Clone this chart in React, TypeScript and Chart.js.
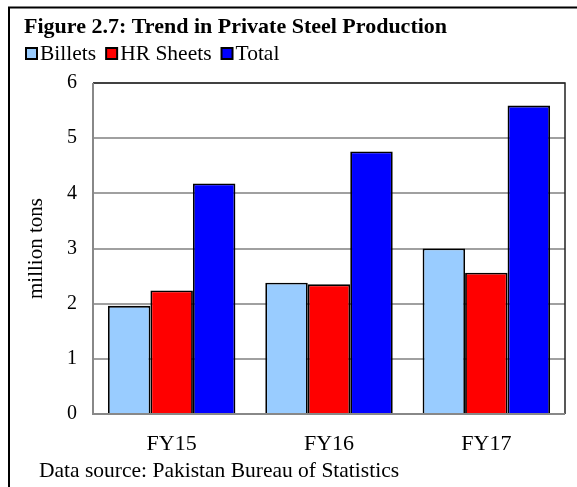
import React, { useEffect, useRef } from "react";
import { Chart, registerables } from "chart.js";

Chart.register(...registerables);

const categories = ["FY15", "FY16", "FY17"];
const billets = [1.96, 2.38, 3.0];
const hrSheets = [2.24, 2.35, 2.56];
const total = [4.18, 4.76, 5.59];
const yTicks = [0, 1, 2, 3, 4, 5, 6];
const seriesNames = ["Billets", "HR Sheets", "Total"];
const seriesColors = ["#99CCFF", "#FF0000", "#0000FF"];
const titleText = "Figure 2.7: Trend in Private Steel Production";
const sourceText = "Data source: Pakistan Bureau of Statistics";
const yTitle = "million tons";

const FONT = "'Liberation Serif', 'Times New Roman', serif";

export default function App() {
  const ref = useRef<HTMLCanvasElement | null>(null);
  useEffect(() => {
    document.body.style.margin = "0";
    const canvas = ref.current!;
    const framePlugin = {
      id: "frame",
      beforeDraw(chart: any) {
        const ctx = chart.ctx;
        ctx.save();
        ctx.fillStyle = "#fff";
        ctx.fillRect(0, 0, chart.width, chart.height);
        ctx.strokeStyle = "#000";
        ctx.lineWidth = 2;
        ctx.strokeRect(9, 7.5, chart.width + 20, chart.height + 20);
        ctx.restore();
      },
      afterDraw(chart: any) {
        const ctx = chart.ctx;
        const a = chart.chartArea;
        ctx.save();
        // plot frame
        ctx.strokeStyle = "#222";
        ctx.lineWidth = 1.5;
        ctx.beginPath();
        ctx.moveTo(a.left, a.top);
        ctx.lineTo(a.right, a.top);
        ctx.lineTo(a.right, a.bottom);
        ctx.stroke();
        ctx.strokeStyle = "#888";
        ctx.lineWidth = 2;
        ctx.beginPath();
        ctx.moveTo(a.left, a.top);
        ctx.lineTo(a.left, a.bottom);
        ctx.lineTo(a.right, a.bottom);
        ctx.stroke();
        // title
        ctx.fillStyle = "#000";
        ctx.textAlign = "left";
        ctx.textBaseline = "alphabetic";
        ctx.font = `bold 22px ${FONT}`;
        ctx.fillText(titleText, 24, 33);
        // legend from datasets
        ctx.font = `21.5px ${FONT}`;
        let x = 25;
        chart.data.datasets.forEach((ds: any) => {
          ctx.fillStyle = ds.backgroundColor;
          ctx.fillRect(x + 1, 48, 11, 11);
          ctx.strokeStyle = "#000";
          ctx.lineWidth = 2;
          ctx.strokeRect(x + 1, 48, 11, 11);
          ctx.fillStyle = "#000";
          ctx.fillText(ds.label, x + 15, 60);
          x += 15 + ctx.measureText(ds.label).width + 9;
        });
        // source
        ctx.font = `21.5px ${FONT}`;
        ctx.fillText(sourceText, 39, 477);
        ctx.restore();
      },
    };
    const chart = new Chart(canvas, {
      type: "bar",
      data: {
        labels: categories,
        datasets: [
          { label: seriesNames[0], data: billets, backgroundColor: seriesColors[0], borderColor: "#000", borderWidth: 1.8 },
          { label: seriesNames[1], data: hrSheets, backgroundColor: seriesColors[1], borderColor: "#000", borderWidth: 1.8 },
          { label: seriesNames[2], data: total, backgroundColor: seriesColors[2], borderColor: "#000", borderWidth: 1.8 },
        ],
      },
      options: {
        animation: false,
        responsive: false,
        maintainAspectRatio: false,
        layout: { padding: { left: 24, right: 12, top: 83, bottom: 0 } },
        datasets: { bar: { categoryPercentage: 0.81, barPercentage: 1.0 } },
        plugins: {
          title: { display: false },
          legend: { display: false },
          tooltip: { enabled: false },
        },
        scales: {
          x: {
            grid: { display: false, drawTicks: false },
            border: { display: false },
            ticks: { color: "#000", font: { family: FONT, size: 22 }, padding: 17, maxRotation: 0 },
            afterFit(scale: any) {
              scale.height = 73;
            },
          },
          y: {
            min: 0,
            max: 6,
            afterBuildTicks(scale: any) {
              scale.ticks = yTicks.map((v) => ({ value: v }));
            },
            grid: { color: "#a0a0a0", lineWidth: 2, drawTicks: false },
            border: { display: false },
            ticks: { color: "#000", font: { family: FONT, size: 20 }, padding: 16 },
            title: { display: true, text: yTitle, color: "#000", font: { family: FONT, size: 21 }, padding: 0 },
            afterFit(scale: any) {
              scale.width = 69;
            },
          },
        },
      },
      plugins: [framePlugin],
    });
    return () => chart.destroy();
  }, []);
  return <canvas ref={ref} width={577} height={487} style={{ display: "block" }} />;
}
